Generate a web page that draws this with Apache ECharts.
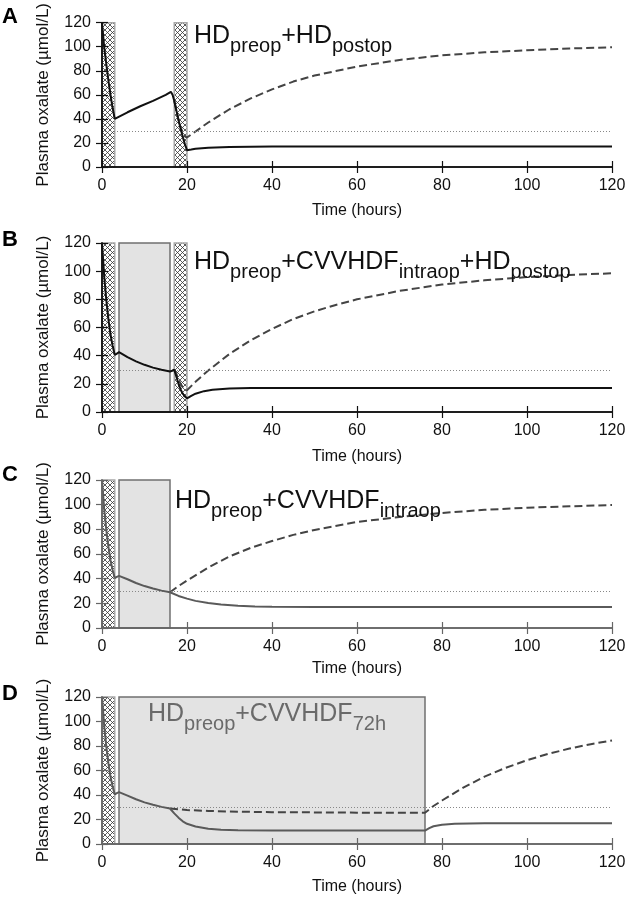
<!DOCTYPE html>
<html><head><meta charset="utf-8">
<script src="https://cdn.jsdelivr.net/npm/echarts@6/dist/echarts.min.js"></script>
<style>html,body{margin:0;padding:0;background:#fff}#c{width:630px;height:900px}</style>
</head><body><div id="c"></div>
<script>
// ---------- data ----------
const THRESHOLD = 30;
const X_MIN = 0, X_MAX = 120, Y_MIN = 0, Y_MAX = 120;

// Panel A: HDpreop + HDpostop
const hdA = [[0, 3], [17, 20]];
const cvA = [];
const tA_solid = [0,0.5,1,1.5,2,2.5,3,6,9,12,15,16.2,16.6,17,17.5,18,18.5,19,19.5,20,21,22,25,30,40,60,80,100,120];
const vA_solid = [120,100,86,72,60,49,40,45.5,50.5,55,60,62.5,60,55,47,39,32,25,19,14,14.5,15.2,16,16.7,17,17,17,17,17];
const tA_dash = [17,17.5,18,18.5,19,19.5,20,22,25,30,35,40,45,50,60,70,80,90,100,110,120];
const vA_dash = [55,47,39,33,28.5,25.5,24.5,29.5,37,48,57,64.5,71,76,83.5,89,92.8,95.3,97,98.5,99.5];

// Panel B: HDpreop + CVVHDFintraop + HDpostop
const hdB = [[0, 3], [17, 20]];
const cvB = [[4, 16]];
const tB_solid = [0,0.5,1,1.5,2,2.5,3,3.5,4,6,8,10,12,14,16,16.5,17,17.5,18,18.5,19,19.5,20,21,22,24,26,30,35,40,120];
const vB_solid = [120,97,80,66,55,47,40.5,41.5,42.5,39,36,33.5,31.5,30,28.8,29.3,30,25,20,16,13,11,9.7,11.5,13,14.8,15.8,16.7,17,17,17];
const tB_dash = [17,17.5,18,18.5,19,19.5,20,22,25,30,35,40,45,50,55,60,70,80,90,100,110,120];
const vB_dash = [30,27,23,20,17.5,16,15.5,21.4,29.5,41.2,51,59,66,71.5,76,80,86,90.5,93.5,95.8,97.3,98.5];

// Panel C: HDpreop + CVVHDFintraop
const hdC = [[0, 3]];
const cvC = [[4, 16]];
const tC_solid = [0,0.5,1,1.5,2,2.5,3,3.5,4,6,8,10,12,14,16,18,20,22,25,28,32,36,40,50,120];
const vC_solid = [120,97,80,66,55,47,40.5,41.5,42.3,39.5,36.5,34,32,30.3,29,26,23.8,22,20.3,19,18,17.5,17.2,17,17];
const tC_dash = [16,18,20,25,30,35,40,45,50,60,70,80,90,100,110,120];
const vC_dash = [29,34,38.5,49,58,65,70.5,75.5,79.5,86,90,93.3,95.8,97.5,98.7,99.7];

// Panel D: HDpreop + CVVHDF72h
const hdD = [[0, 3]];
const cvD = [[4, 76]];
const tD_solid = [0,0.5,1,1.5,2,2.5,3,3.5,4,6,8,10,12,14,16,17,18,19,20,22,25,28,32,40,60,76,77,78,80,83,90,120];
const vD_solid = [120,97,80,66,55,47,40.5,41.5,42.3,39.5,36.5,34,32,30.3,29,25,21.5,18.5,16.5,14.3,12.5,11.7,11.2,11,11,11,13,14.5,15.7,16.5,17,17];
const tD_dash = [16,20,25,30,40,50,60,76,78,80,85,90,95,100,105,110,115,120];
const vD_dash = [29,27.7,27,26.5,26,25.8,25.6,25.5,31,35.5,46,55,62.2,68.4,73.6,77.9,81.5,84.5];

const letters = ['A', 'B', 'C', 'D'];
const titles = [
  '{a|HD}{s|preop}{a|+HD}{s|postop}',
  '{a|HD}{s|preop}{a|+CVVHDF}{s|intraop}{a|+HD}{s|postop}',
  '{a|HD}{s|preop}{a|+CVVHDF}{s|intraop}',
  '{a|HD}{s|preop}{a|+CVVHDF}{s|72h}'
];
const xName = 'Time (hours)';
const yName = 'Plasma oxalate (\u00b5mol/L)';

// ---------- build ----------
const FONT = '"Liberation Sans", Arial, Helvetica, sans-serif';
const zip = (t, v) => t.map((x, i) => [x, v[i]]);

const hatch = document.createElement('canvas');
hatch.width = 5; hatch.height = 5;
(function () {
  const g = hatch.getContext('2d');
  g.fillStyle = '#fff'; g.fillRect(0, 0, 5, 5);
  g.strokeStyle = '#333'; g.lineWidth = 0.8;
  g.beginPath();
  g.moveTo(-1, -1); g.lineTo(6, 6);
  g.moveTo(6, -1); g.lineTo(-1, 6);
  g.stroke();
})();

const panels = [
  {hd: hdA, cv: cvA, s: zip(tA_solid, vA_solid), d: zip(tA_dash, vA_dash), top: 21, h: 146, frame: '#111', sc: '#111', dc: '#444', tc: '#111', tx: 194, ty: 16, ng: 36, ly: 6},
  {hd: hdB, cv: cvB, s: zip(tB_solid, vB_solid), d: zip(tB_dash, vB_dash), top: 243, h: 169, frame: '#111', sc: '#111', dc: '#444', tc: '#111', tx: 194, ty: 242, ng: 37, ly: 229},
  {hd: hdC, cv: cvC, s: zip(tC_solid, vC_solid), d: zip(tC_dash, vC_dash), top: 480, h: 148, frame: '#666', sc: '#5a5a5a', dc: '#444', tc: '#111', tx: 175, ty: 481, ng: 33, ly: 464},
  {hd: hdD, cv: cvD, s: zip(tD_solid, vD_solid), d: zip(tD_dash, vD_dash), top: 697, h: 147, frame: '#666', sc: '#5a5a5a', dc: '#444', tc: '#6a6a6a', tx: 148, ty: 694, ng: 35, ly: 683}
];

const grid = [], xAxis = [], yAxis = [], series = [], graphic = [];
const tickLabel = {fontSize: 16, color: '#111', fontFamily: FONT};

panels.forEach((p, i) => {
  grid.push({left: 102, width: 510, top: p.top, height: p.h, show: false});
  const line = {show: true, lineStyle: {color: p.frame, width: 1.5}};
  const tick = {show: true, inside: true, length: 6, lineStyle: {color: p.frame, width: 1.2}};
  xAxis.push({gridIndex: i, type: 'value', min: X_MIN, max: X_MAX, interval: 20, position: 'bottom', z: 10,
    axisLine: line, axisTick: tick, splitLine: {show: false},
    axisLabel: Object.assign({margin: 11}, tickLabel),
    name: xName, nameLocation: 'middle', nameGap: p.ng, nameTextStyle: {fontSize: 16, color: '#111', fontFamily: FONT}});
  xAxis.push({gridIndex: i, type: 'value', min: X_MIN, max: X_MAX, interval: 20, position: 'top', z: 10,
    axisLine: line, axisTick: tick, splitLine: {show: false}, axisLabel: {show: false}});
  yAxis.push({gridIndex: i, type: 'value', min: Y_MIN, max: Y_MAX, interval: 20, position: 'left', z: 10,
    axisLine: line, axisTick: tick, splitLine: {show: false},
    axisLabel: Object.assign({margin: 11}, tickLabel),
    name: yName, nameLocation: 'middle', nameGap: 50, nameTextStyle: {fontSize: 17, color: '#111', fontFamily: FONT}});
  yAxis.push({gridIndex: i, type: 'value', min: Y_MIN, max: Y_MAX, interval: 20, position: 'right', z: 10,
    axisLine: line, axisTick: tick, splitLine: {show: false}, axisLabel: {show: false}});

  const ax = {xAxisIndex: 2 * i, yAxisIndex: 2 * i};
  series.push(Object.assign({type: 'line', data: [], z: 1, silent: true,
    markArea: {silent: true, itemStyle: {color: '#e3e3e3', borderColor: '#707070', borderWidth: 1.5},
      data: p.cv.map(r => [{xAxis: r[0]}, {xAxis: r[1]}])}}, ax));
  series.push(Object.assign({type: 'line', data: [], z: 2, silent: true,
    markLine: {silent: true, symbol: ['none', 'none'], label: {show: false},
      lineStyle: {type: [1, 2], color: '#888', width: 1}, data: [{yAxis: THRESHOLD}]}}, ax));
  series.push(Object.assign({type: 'line', data: [], z: 3, silent: true,
    markArea: {silent: true, itemStyle: {color: {image: hatch, repeat: 'repeat'}, borderColor: '#a8a8a8', borderWidth: 1.5},
      data: p.hd.map(r => [{xAxis: r[0]}, {xAxis: r[1]}])}}, ax));
  series.push(Object.assign({type: 'line', data: p.d, z: 4, showSymbol: false, smooth: false,
    lineStyle: {color: p.dc, width: 2, type: [8, 4]}}, ax));
  series.push(Object.assign({type: 'line', data: p.s, z: 5, showSymbol: false, smooth: false,
    lineStyle: {color: p.sc, width: 2}}, ax));

  graphic.push({type: 'text', z: 100, x: 2, y: p.ly,
    style: {text: letters[i], fill: '#000', font: 'bold 22px ' + FONT}});
  graphic.push({type: 'text', z: 100, x: p.tx, y: p.ty,
    style: {text: titles[i], fill: p.tc, rich: {
      a: {fontSize: 25, fontFamily: FONT, fill: p.tc},
      s: {fontSize: 20, fontFamily: FONT, fill: p.tc, padding: [20, 0, 0, 0]}
    }}});
});

const chart = echarts.init(document.getElementById('c'), null, {renderer: 'canvas'});
chart.setOption({animation: false, backgroundColor: '#fff', grid, xAxis, yAxis, series, graphic});
</script>
</body></html>
